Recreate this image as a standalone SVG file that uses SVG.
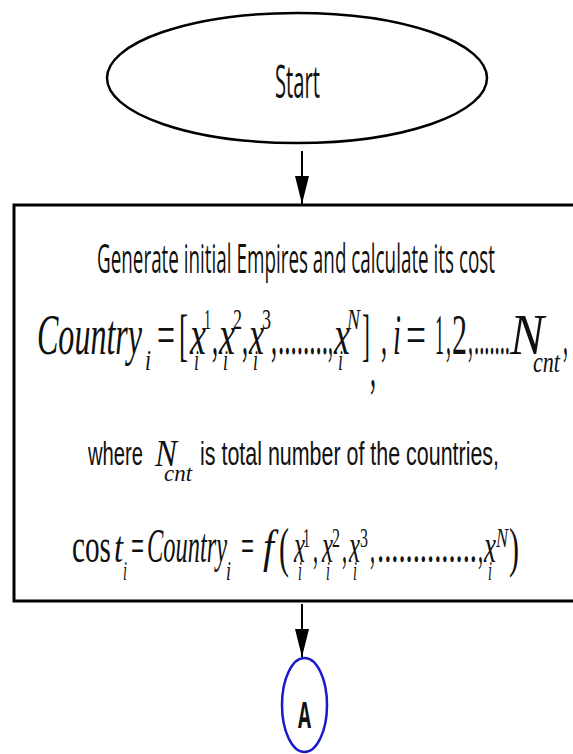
<svg xmlns="http://www.w3.org/2000/svg" width="573" height="754" viewBox="0 0 573 754">
<style>
.ol{fill:none;stroke:#000;stroke-width:2.5}
.cn{stroke:#000;stroke-width:2;fill:none}
.s{font-family:"Open Sans","Liberation Sans",sans-serif;fill:#111}
.a{font-family:"Liberation Sans",Arial,sans-serif;fill:#111}
.m{font-family:"Liberation Serif","Times New Roman",serif;font-style:italic;fill:#111}
.r{font-family:"Liberation Serif","Times New Roman",serif;fill:#111}
.b{font-size:58px}
.k{font-size:30px}
.c{font-size:48px}
.q{font-size:28px}
</style>
<defs>
<marker id="ah" markerUnits="userSpaceOnUse" markerWidth="28" markerHeight="14" refX="28" refY="7" orient="auto">
<path d="M0,0 L28,7 L0,14 z" fill="#000"/>
</marker>
</defs>
<rect width="573" height="754" fill="#fff"/>
<g id="start">
<ellipse cx="297" cy="78" rx="190" ry="65" class="ol"/>
<text class="s" x="275" y="98" font-size="46" textLength="45" lengthAdjust="spacingAndGlyphs">Start</text>
</g>
<g id="connectors">
<line x1="302" y1="151" x2="302" y2="204" class="cn" marker-end="url(#ah)"/>
<line x1="302" y1="604" x2="302" y2="657" class="cn" marker-end="url(#ah)"/>
</g>
<g id="init">
<rect x="14" y="205" width="575" height="396" fill="none" stroke="#000" stroke-width="3"/>
<text class="s" x="97" y="273" font-size="40" textLength="398" lengthAdjust="spacingAndGlyphs">Generate initial Empires and calculate its cost</text>
<!-- line 2 -->
<text class="m b" x="37" y="354" textLength="105" lengthAdjust="spacingAndGlyphs">Country</text>
<text class="m k" x="145" y="370" textLength="6" lengthAdjust="spacingAndGlyphs">i</text>
<text class="r b" x="157" y="354" textLength="18" lengthAdjust="spacingAndGlyphs">=</text>
<text class="r b" x="179" y="354" textLength="9" lengthAdjust="spacingAndGlyphs">[</text>
<text class="m b" x="190" y="354" textLength="16" lengthAdjust="spacingAndGlyphs">x</text>
<text class="r k" x="204" y="329" textLength="7" lengthAdjust="spacingAndGlyphs">1</text>
<text class="m k" x="194" y="370" textLength="5" lengthAdjust="spacingAndGlyphs">i</text>
<text class="r b" x="212" y="354" textLength="6" lengthAdjust="spacingAndGlyphs">,</text>
<text class="m b" x="219" y="354" textLength="16" lengthAdjust="spacingAndGlyphs">x</text>
<text class="r k" x="233" y="329" textLength="9" lengthAdjust="spacingAndGlyphs">2</text>
<text class="m k" x="223" y="370" textLength="5" lengthAdjust="spacingAndGlyphs">i</text>
<text class="r b" x="242" y="354" textLength="6" lengthAdjust="spacingAndGlyphs">,</text>
<text class="m b" x="249" y="354" textLength="15" lengthAdjust="spacingAndGlyphs">x</text>
<text class="r k" x="262" y="329" textLength="9" lengthAdjust="spacingAndGlyphs">3</text>
<text class="m k" x="253" y="370" textLength="5" lengthAdjust="spacingAndGlyphs">i</text>
<text class="r b" x="271" y="354" textLength="6" lengthAdjust="spacingAndGlyphs">,</text>
<text class="r b" x="278" y="354" textLength="50" lengthAdjust="spacingAndGlyphs">........</text>
<text class="r b" x="328" y="354" textLength="5" lengthAdjust="spacingAndGlyphs">,</text>
<text class="m b" x="334" y="354" textLength="16" lengthAdjust="spacingAndGlyphs">x</text>
<text class="m k" x="347" y="329" textLength="13" lengthAdjust="spacingAndGlyphs">N</text>
<text class="m k" x="338" y="370" textLength="5" lengthAdjust="spacingAndGlyphs">i</text>
<text class="r b" x="362" y="354" textLength="8" lengthAdjust="spacingAndGlyphs">]</text>
<text class="r b" x="370" y="386" textLength="6" lengthAdjust="spacingAndGlyphs">,</text>
<text class="r b" x="381" y="354" textLength="6" lengthAdjust="spacingAndGlyphs">,</text>
<text class="m b" x="393" y="354" textLength="8" lengthAdjust="spacingAndGlyphs">i</text>
<text class="r b" x="406" y="354" textLength="20" lengthAdjust="spacingAndGlyphs">=</text>
<text class="r b" x="435" y="354" textLength="9" lengthAdjust="spacingAndGlyphs">1</text>
<text class="r b" x="446" y="354" textLength="5" lengthAdjust="spacingAndGlyphs">,</text>
<text class="r b" x="452" y="354" textLength="15" lengthAdjust="spacingAndGlyphs">2</text>
<text class="r b" x="468" y="354" textLength="5" lengthAdjust="spacingAndGlyphs">,</text>
<text class="r b" x="474" y="354" textLength="36" lengthAdjust="spacingAndGlyphs">.......</text>
<text class="m b" x="510" y="354" textLength="34" lengthAdjust="spacingAndGlyphs">N</text>
<text class="m k" x="533" y="372" textLength="27" lengthAdjust="spacingAndGlyphs">cnt</text>
<text class="r b" x="563" y="354" textLength="5" lengthAdjust="spacingAndGlyphs">,</text>
<!-- line 3 -->
<text class="a" x="88" y="465" font-size="34" textLength="55" lengthAdjust="spacingAndGlyphs">where</text>
<text class="m" x="155" y="466" font-size="38" textLength="22" lengthAdjust="spacingAndGlyphs">N</text>
<text class="m" x="164" y="481" font-size="24" textLength="28" lengthAdjust="spacingAndGlyphs">cnt</text>
<text class="a" x="200" y="465" font-size="34" textLength="299" lengthAdjust="spacingAndGlyphs">is total number of the countries,</text>
<!-- line 4 -->
<text class="r c" x="72" y="562" textLength="39" lengthAdjust="spacingAndGlyphs">cos</text>
<text class="m" x="114" y="562" font-size="44" textLength="9" lengthAdjust="spacingAndGlyphs">t</text>
<text class="m q" x="123" y="580" textLength="4" lengthAdjust="spacingAndGlyphs">i</text>
<text class="r c" x="131" y="562" textLength="13" lengthAdjust="spacingAndGlyphs">=</text>
<text class="m c" x="147" y="562" textLength="80" lengthAdjust="spacingAndGlyphs">Country</text>
<text class="m q" x="226" y="580" textLength="5" lengthAdjust="spacingAndGlyphs">i</text>
<text class="r c" x="241" y="562" textLength="13" lengthAdjust="spacingAndGlyphs">=</text>
<text class="m" x="263" y="562" font-size="46" textLength="11" lengthAdjust="spacingAndGlyphs">f</text>
<text class="r" x="279" y="566" font-size="54" textLength="10" lengthAdjust="spacingAndGlyphs">(</text>
<text class="m c" x="294" y="562" textLength="11" lengthAdjust="spacingAndGlyphs">x</text>
<text class="r q" x="303" y="547" textLength="7" lengthAdjust="spacingAndGlyphs">1</text>
<text class="m q" x="298" y="580" textLength="4" lengthAdjust="spacingAndGlyphs">i</text>
<text class="r c" x="313" y="562" textLength="5" lengthAdjust="spacingAndGlyphs">,</text>
<text class="m c" x="322" y="562" textLength="11" lengthAdjust="spacingAndGlyphs">x</text>
<text class="r q" x="332" y="547" textLength="8" lengthAdjust="spacingAndGlyphs">2</text>
<text class="m q" x="326" y="580" textLength="4" lengthAdjust="spacingAndGlyphs">i</text>
<text class="r c" x="342" y="562" textLength="5" lengthAdjust="spacingAndGlyphs">,</text>
<text class="m c" x="349" y="562" textLength="11" lengthAdjust="spacingAndGlyphs">x</text>
<text class="r q" x="360" y="547" textLength="8" lengthAdjust="spacingAndGlyphs">3</text>
<text class="m q" x="353" y="580" textLength="4" lengthAdjust="spacingAndGlyphs">i</text>
<text class="r c" x="370" y="562" textLength="5" lengthAdjust="spacingAndGlyphs">,</text>
<text class="r c" x="377" y="562" textLength="100" lengthAdjust="spacingAndGlyphs">..............</text>
<text class="r c" x="478" y="562" textLength="5" lengthAdjust="spacingAndGlyphs">,</text>
<text class="m c" x="484" y="562" textLength="12" lengthAdjust="spacingAndGlyphs">x</text>
<text class="m q" x="496" y="547" textLength="12" lengthAdjust="spacingAndGlyphs">N</text>
<text class="m q" x="488" y="580" textLength="4" lengthAdjust="spacingAndGlyphs">i</text>
<text class="r" x="509" y="566" font-size="54" textLength="10" lengthAdjust="spacingAndGlyphs">)</text>
</g>
<g id="A">
<ellipse cx="304.5" cy="705" rx="22.5" ry="47" fill="none" stroke="#1a1acc" stroke-width="2.5"/>
<text class="s" x="298" y="728" font-size="36" font-weight="bold" textLength="13" lengthAdjust="spacingAndGlyphs">A</text>
</g>
</svg>
